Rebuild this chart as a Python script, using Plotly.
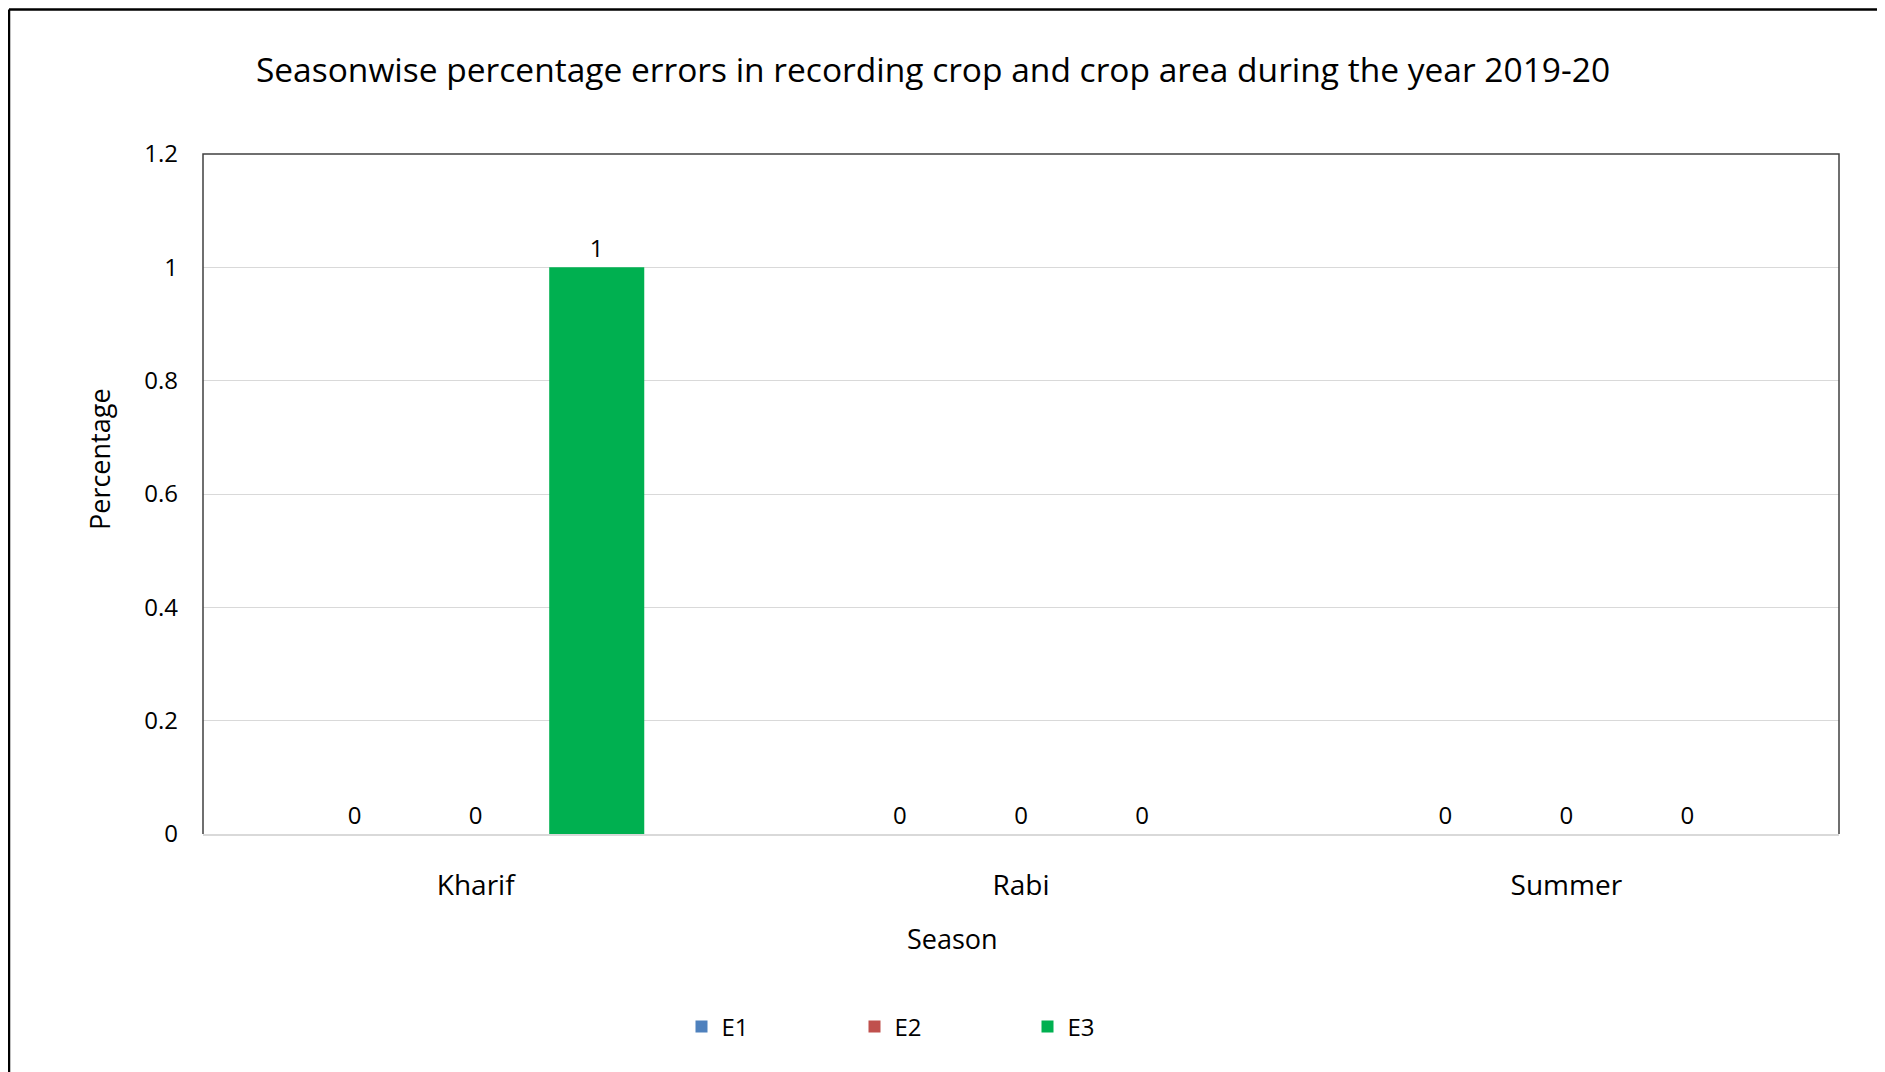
import plotly.graph_objects as go

seasons = ["Kharif", "Rabi", "Summer"]
series_names = ["E1", "E2", "E3"]
e1 = [0, 0, 0]
e2 = [0, 0, 0]
e3 = [1, 0, 0]
colors = ["#4F81BD", "#C0504D", "#00B050"]
title_text = "Seasonwise percentage errors in recording crop and crop area during the year 2019-20"
x_title = "Season"
y_title = "Percentage"

# page offset (browser body margin)
OFF = 8
PW, PH = 1885, 1072
W, H = PW - OFF, PH - OFF
# plot area in page pixels
PL, PR, PT, PB = 203, 1839, 154, 834
L, R, T, B = PL - OFF, PR - OFF, PT - OFF, PB - OFF
FONT = "Open Sans"

def px(x_page):
    return (x_page - PL) / (PR - PL)

def py(y_page):
    return (PB - y_page) / (PB - PT)

fig = go.Figure()
for name, vals, col in zip(series_names, [e1, e2, e3], colors):
    fig.add_trace(go.Bar(
        x=seasons, y=vals, name=name,
        marker=dict(color=col, line=dict(width=14, color="rgba(0,0,0,0)")),
        text=[str(v) for v in vals], textposition="outside", cliponaxis=False,
        textfont=dict(family=FONT, size=24, color="#000000"),
    ))

fig.update_layout(
    width=W, height=H, autosize=False,
    margin=dict(l=L, r=W - R, t=T, b=H - B, autoexpand=False),
    paper_bgcolor="white", plot_bgcolor="white",
    font=dict(family=FONT, size=24, color="#000000"),
    barmode="group", bargap=0.334, bargroupgap=0.215,
    title=dict(text=title_text, x=(933 - OFF) / W, xanchor="center", xref="container",
               y=1 - (70 - OFF) / H, yanchor="middle", yref="container",
               font=dict(family=FONT, size=33.5, color="#000000")),
    xaxis=dict(showline=True, linecolor="#D9D9D9", linewidth=2, showgrid=False,
               ticks="", ticklabelstandoff=25, automargin=False,
               tickfont=dict(size=28)),
    yaxis=dict(range=[0, 1.2], dtick=0.2, showgrid=True, gridcolor="#D9D9D9", gridwidth=1,
               zeroline=False, showline=False, ticks="", ticklabelstandoff=24, automargin=False,
               tickfont=dict(size=24)),
    legend=dict(orientation="h", x=px(941), xanchor="center", xref="paper",
                y=py(1027), yanchor="middle", yref="paper",
                entrywidth=128, entrywidthmode="pixels",
                font=dict(family=FONT, size=24, color="#000000")),
    annotations=[
        dict(text=x_title, xref="paper", yref="paper", x=px(952), y=py(939),
             xanchor="center", yanchor="middle", showarrow=False,
             font=dict(family=FONT, size=27, color="#000000")),
        dict(text=y_title, xref="paper", yref="paper", x=px(99), y=py(459),
             xanchor="center", yanchor="middle", showarrow=False, textangle=-90,
             font=dict(family=FONT, size=27, color="#000000")),
    ],
    shapes=[
        dict(type="path", xref="paper", yref="paper", path="M 0,0 L 0,1 L 1,1 L 1,0",
             line=dict(color="#404040", width=1.5)),
        dict(type="line", xref="paper", yref="paper", x0=px(9), x1=px(PW + 5), y0=py(9.5), y1=py(9.5),
             line=dict(color="#000000", width=2.5)),
        dict(type="line", xref="paper", yref="paper", x0=px(9), x1=px(9), y0=py(9.5), y1=py(PH + 5),
             line=dict(color="#000000", width=2.5)),
    ],
)

fig.write_html("out.html")
